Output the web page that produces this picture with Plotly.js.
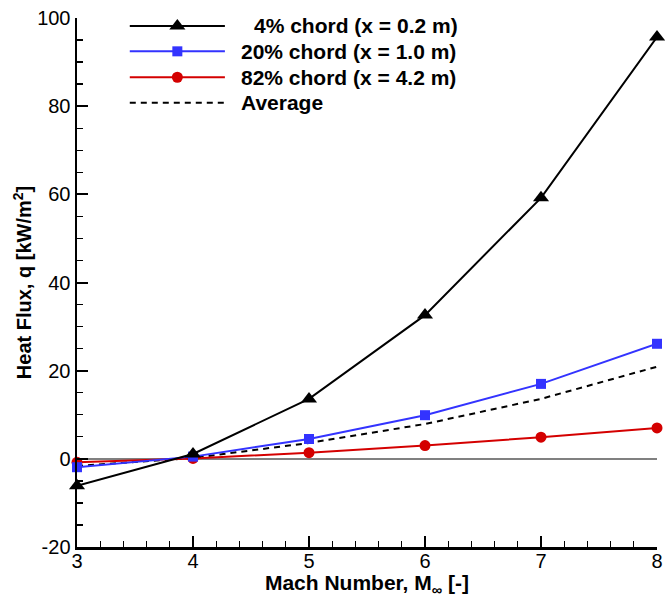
<!DOCTYPE html>
<html><head><meta charset="utf-8">
<script src="https://cdn.plot.ly/plotly-3.0.1.min.js"></script>
<style>html,body{margin:0;padding:0;background:#fff}#chart{width:665px;height:598px}</style>
</head><body><div id="chart"></div>
<script>
const mach = [3, 4, 5, 6, 7, 8];
const chord4 = [-6.1, 1.1, 13.6, 32.6, 59.2, 95.7];
const chord20 = [-1.9, 0.5, 4.5, 9.9, 17.0, 26.1];
const chord82 = [-0.8, 0.1, 1.4, 3.0, 4.9, 7.0];
const average = [-1.6, 0.2, 3.6, 7.9, 13.6, 20.9];
const legendLabels = ['4% chord (x = 0.2 m)', '20% chord (x = 1.0 m)', '82% chord (x = 4.2 m)', 'Average'];
const yTickVals = [-20, 0, 20, 40, 60, 80, 100];
const yTickText = ['-20', '0', '20', '40', '60', '80', '100'];

const FONT = 'Liberation Sans, Arial, Helvetica, sans-serif';
const styles = [
  {color: 'black', symbol: 'triangle-up', size: 14, dash: 'solid', mode: 'lines+markers'},
  {color: '#3333ff', symbol: 'square', size: 10, dash: 'solid', mode: 'lines+markers'},
  {color: '#d40000', symbol: 'circle', size: 11, dash: 'solid', mode: 'lines+markers'},
  {color: 'black', symbol: 'circle', size: 1, dash: '6px,5px', mode: 'lines'}
];
const series = [chord4, chord20, chord82, average];

const traces = [];
[3, 2, 1, 0].forEach(i => {
  const s = styles[i];
  traces.push({
    x: mach, y: series[i], type: 'scatter', mode: s.mode, cliponaxis: false,
    line: {color: s.color, width: 2, dash: s.dash},
    marker: {color: s.color, symbol: s.symbol, size: s.size},
    showlegend: false, hoverinfo: 'skip'
  });
});

// manual legend on overlay axes (0..1 of plot area)
const legY = [0.985, 0.937, 0.888, 0.84];
const legX0 = 0.091, legX1 = 0.255, legXm = 0.173;
const annotations = [];
legendLabels.forEach((lab, i) => {
  const s = styles[i];
  traces.push({
    x: [legX0, legX1], y: [legY[i], legY[i]], xaxis: 'x2', yaxis: 'y2', type: 'scatter', mode: 'lines',
    line: {color: s.color, width: 2, dash: s.dash}, showlegend: false, hoverinfo: 'skip', cliponaxis: false
  });
  if (s.mode.includes('markers')) {
    traces.push({
      x: [legXm], y: [legY[i]], xaxis: 'x2', yaxis: 'y2', type: 'scatter', mode: 'markers',
      marker: {color: s.color, symbol: s.symbol, size: s.size}, showlegend: false, hoverinfo: 'skip', cliponaxis: false
    });
  }
  annotations.push({
    xref: 'x2', yref: 'y2', x: i === 0 ? 0.301 : 0.279, y: legY[i], xanchor: 'left', yanchor: 'middle',
    text: '<b>' + lab + '</b>', showarrow: false, font: {family: FONT, size: 21, color: 'black'}
  });
});

const layout = {
  width: 665, height: 598,
  margin: {l: 77, r: 8, t: 18, b: 51},
  paper_bgcolor: 'white', plot_bgcolor: 'white',
  showlegend: false,
  font: {family: FONT, color: 'black'},
  xaxis: {
    range: [3, 8], dtick: 1, tick0: 3, ticks: 'inside', ticklen: 11, tickwidth: 2, tickcolor: 'black',
    showline: true, linecolor: 'black', linewidth: 2.5, showgrid: false, zeroline: false,
    tickfont: {family: FONT, size: 20, color: 'black'}, ticklabelstandoff: -6,
    minor: {ticks: 'inside', dtick: 0.2, ticklen: 6, tickwidth: 1.3, tickcolor: 'black', showgrid: false},
    title: {text: '<b>Mach Number, M<sub>∞</sub> [-]</b>', font: {family: FONT, size: 21, color: 'black'}, standoff: 2}
  },
  yaxis: {
    range: [-20, 100], tickmode: 'array', tickvals: yTickVals, ticktext: yTickText,
    ticks: 'inside', ticklen: 11, tickwidth: 2, tickcolor: 'black',
    showline: true, linecolor: 'black', linewidth: 2.5, showgrid: false,
    zeroline: true, zerolinecolor: '#808080', zerolinewidth: 1.5,
    tickfont: {family: FONT, size: 20, color: 'black'},
    minor: {ticks: 'inside', dtick: 5, ticklen: 6, tickwidth: 1.3, tickcolor: 'black', showgrid: false},
    title: {text: '<b>Heat Flux, q [kW/m<sup>2</sup>]</b>', font: {family: FONT, size: 20, color: 'black'}, standoff: 0}
  },
  xaxis2: {overlaying: 'x', range: [0, 1], visible: false, fixedrange: true},
  yaxis2: {overlaying: 'y', range: [0, 1], visible: false, fixedrange: true},
  annotations: annotations
};

Plotly.newPlot('chart', traces, layout, {displayModeBar: false, staticPlot: true});
</script></body></html>
